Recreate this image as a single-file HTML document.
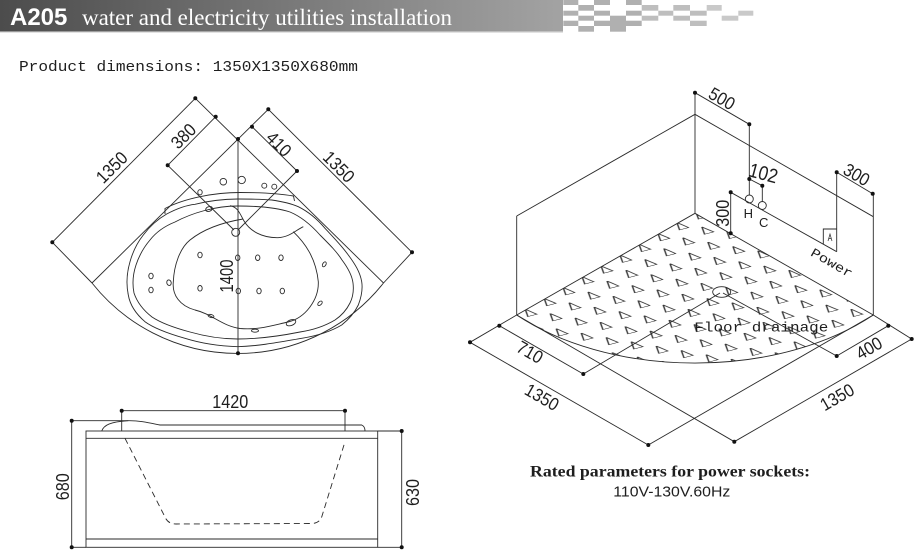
<!DOCTYPE html>
<html><head><meta charset="utf-8">
<style>
html,body{margin:0;padding:0;background:#fff;}
svg{display:block;}
.t{font-family:"Liberation Sans",Arial,sans-serif;fill:#1e1e1e;font-size:18px;}
.m{font-family:"Liberation Mono","DejaVu Sans Mono",monospace;fill:#1e1e1e;}
.ln{stroke:#2a2a2a;stroke-width:0.9;fill:none;}
.dot{fill:#111;}
</style></head><body>
<svg width="915" height="550" viewBox="0 0 915 550" xmlns="http://www.w3.org/2000/svg">
<defs>
<linearGradient id="hg" x1="0" x2="1" y1="0" y2="0">
<stop offset="0" stop-color="#4c4c4c"/><stop offset="1" stop-color="#a3a3a3"/>
</linearGradient>
<pattern id="tri" patternUnits="userSpaceOnUse" width="100" height="100" patternTransform="matrix(0.25 0.0433 -0.1896 0.1083 678.68 219.12)">
<path d="M13.24 26.84 L60.75 75.25 L76.01 47.91 Z" fill="none" stroke="#333" stroke-width="4.5"/>
</pattern>
</defs>
<rect x="0" y="0" width="915" height="550" fill="#fff"/>

<!-- HEADER -->
<rect x="0" y="0" width="563" height="31.5" fill="url(#hg)"/>
<rect x="0" y="31.5" width="563" height="1.5" fill="#e2e2e2"/>
<text x="10" y="25" style="font-family:'Liberation Sans',Arial,sans-serif;font-size:24px;font-weight:bold;fill:#fff">A205</text>
<text x="82" y="25" style="font-family:'Liberation Serif','Times New Roman',serif;font-size:23px;fill:#fff" textLength="370" lengthAdjust="spacingAndGlyphs">water and electricity utilities installation</text>
<g fill="#b0b0b0">
<rect x="563.3" y="0" width="15" height="5"/><rect x="563.3" y="10.7" width="15" height="5"/><rect x="563.3" y="20.7" width="15" height="5.3"/>
<rect x="578.3" y="5" width="15.7" height="5.7"/><rect x="578.3" y="15.7" width="15.7" height="5"/><rect x="578.3" y="26" width="15.7" height="5.7"/>
<rect x="594" y="0" width="16" height="5"/><rect x="594" y="10.7" width="16" height="5"/><rect x="594" y="20.7" width="16" height="5.3"/>
<rect x="610" y="15.7" width="16" height="16"/>
<rect x="626" y="0" width="15.7" height="5"/><rect x="626" y="10.7" width="15.7" height="5"/><rect x="626" y="20.7" width="15.7" height="5.3"/>
</g>
<g fill="#bebebe">
<rect x="641.7" y="5" width="16.6" height="5.7"/><rect x="641.7" y="15.7" width="16.6" height="5"/>
<rect x="658.3" y="10.7" width="15" height="5"/>
<rect x="673.3" y="5" width="16.7" height="5.7"/><rect x="673.3" y="15.7" width="16.7" height="5"/>
<rect x="690" y="10.7" width="16.7" height="5"/><rect x="690" y="20.7" width="16.7" height="5.3"/>
</g>
<g fill="#c9c9c9">
<rect x="706.7" y="5" width="15" height="5.7"/>
<rect x="721.7" y="15.7" width="16.6" height="5"/>
<rect x="738.3" y="10.7" width="15" height="5"/>
</g>

<text x="19" y="71" class="m" style="font-size:15px" textLength="339" lengthAdjust="spacingAndGlyphs">Product dimensions: 1350X1350X680mm</text>

<!-- PLAN VIEW -->
<g class="ln">
<path d="M92,283 A186,186 0 0 0 383.5,283"/>
<line x1="268.3" y1="109.3" x2="92" y2="283"/>
<line x1="195.3" y1="98.3" x2="383.5" y2="283"/>
<line x1="52.3" y1="242.3" x2="195.3" y2="98.3"/>
<line x1="52.3" y1="242.3" x2="92" y2="283"/>
<line x1="215.7" y1="116.7" x2="167.7" y2="165.3"/>
<line x1="167.7" y1="165.3" x2="234" y2="230"/>
<line x1="252" y1="126.7" x2="297" y2="171"/>
<line x1="297" y1="171" x2="238.5" y2="229.5"/>
<line x1="268.3" y1="109.3" x2="412" y2="252.3"/>
<line x1="412" y1="252.3" x2="383.5" y2="283"/>
<line x1="238" y1="139" x2="238" y2="353.3"/>
<path d="M165,214 L165,208.5 C185,198 215,192.5 240,192.5 C262,192.5 282,194 293.5,196 L294.5,201"/>
<path d="M166.7,214 C178,208 188,205 195,204.3 C210,200.5 225,199 237.7,199 C250,199 262,199 271.7,200 C282,201.5 291,203.5 298.3,206.7 C309,212 318,220 325,228.3 C334,238 342,246 348.3,255 C355,264 360,272 361.7,281.7 C363,290 361,298 358.3,305 C354,314 348,320 341.7,325 C330,332 316,336 301.7,338.3 C280,342 260,346 237.7,346.7 C218,346 200,343 185,338.3 C170,334 155,329 145,321.7 C136,314 130,305 128.3,295 C126,284 127,272 130,261.7 C133,251 137,243 143.3,235 C150,226 158,219 166.7,214 Z"/>
<path d="M237.7,206 C255,206 275,207 290,212 C302,217 312,226 320,235 C330,245 337,252 342,260 C348,268 352,275 353,283 C354,291 353,297 350,303 C346,311 341,316 335,320 C325,326 313,330 300,332 C280,336 258,339 237.7,339 C220,339 204,336 190,332 C175,328 161,323 152,317 C143,310 137,302 134,293 C132,283 133,274 136,265 C139,256 144,247 150,240 C157,231 165,226 175,222 C192,213 215,206 237.7,206 Z"/>
<path d="M230,205.7 C238,207 240,214 244,221 C250,231 262,238 278,237.7 C290,237 296,230 303.3,226.7"/>
<path d="M293.3,231.7 C305,243 316,258 318.3,281.7 C319,300 305,318 288,322 C270,326 258,330 240,328.5 C222,326 212,314 195,310 C180,306 172,295 173.3,282 C174,265 180,248 190,240 C205,228 225,222 243,219"/>
<circle cx="223.3" cy="181.7" r="3.3"/>
<circle cx="241.7" cy="180" r="3.7"/>
<circle cx="264.3" cy="185.7" r="2.5"/>
<circle cx="274.3" cy="186.7" r="2.5"/>
<ellipse cx="200" cy="192.3" rx="2.2" ry="2.6"/>
<ellipse cx="209" cy="209" rx="3.5" ry="2.3" transform="rotate(-20 209 209)"/>
<circle cx="235.7" cy="232.3" r="4"/>
<ellipse cx="200" cy="255" rx="2.2" ry="2.8"/>
<ellipse cx="237.7" cy="257.7" rx="2.2" ry="2.8"/>
<ellipse cx="257.7" cy="257.7" rx="2.2" ry="2.8"/>
<ellipse cx="281" cy="257.7" rx="2.2" ry="2.8"/>
<ellipse cx="151" cy="276" rx="2.2" ry="2.8"/>
<ellipse cx="151" cy="290" rx="2.2" ry="2.8"/>
<ellipse cx="169" cy="282.7" rx="2.2" ry="2.8" transform="rotate(-15 169 282.7)"/>
<ellipse cx="200" cy="288.3" rx="2.2" ry="2.8"/>
<ellipse cx="238.3" cy="291" rx="2.2" ry="2.8"/>
<ellipse cx="259" cy="291" rx="2.2" ry="2.8"/>
<ellipse cx="282.3" cy="291" rx="2.2" ry="2.8"/>
<ellipse cx="324.3" cy="264.3" rx="1.6" ry="2.7" transform="rotate(30 324.3 264.3)"/>
<ellipse cx="320" cy="303.3" rx="1.6" ry="2.7" transform="rotate(45 320 303.3)"/>
<ellipse cx="211" cy="316" rx="3" ry="1.5" transform="rotate(15 211 316)"/>
<ellipse cx="255" cy="330.7" rx="3.5" ry="1.5"/>
<ellipse cx="291" cy="322.7" rx="5" ry="2.8" transform="rotate(-20 291 322.7)"/>
</g>
<g class="dot">
<circle cx="52.3" cy="242.3" r="2"/><circle cx="195.3" cy="98.3" r="2"/>
<circle cx="215.7" cy="116.7" r="2"/><circle cx="167.7" cy="165.3" r="2"/>
<circle cx="268.3" cy="109.3" r="2"/><circle cx="252" cy="126.7" r="2"/>
<circle cx="297" cy="171" r="2"/><circle cx="412" cy="252.3" r="2"/>
<circle cx="238" cy="139" r="2"/><circle cx="238" cy="353.3" r="2"/>
</g>
<text class="t" text-anchor="middle" dy=".35em" transform="translate(111.7,167.3) rotate(-45)" textLength="36" lengthAdjust="spacingAndGlyphs">1350</text>
<text class="t" text-anchor="middle" dy=".35em" transform="translate(183.3,136) rotate(-45)" textLength="27" lengthAdjust="spacingAndGlyphs">380</text>
<text class="t" text-anchor="middle" dy=".35em" transform="translate(279,144) rotate(45)" textLength="27" lengthAdjust="spacingAndGlyphs">410</text>
<text class="t" text-anchor="middle" dy=".35em" transform="translate(339,166.7) rotate(45)" textLength="36" lengthAdjust="spacingAndGlyphs">1350</text>
<text class="t" text-anchor="middle" dy=".35em" transform="translate(226.5,276) rotate(-90)" textLength="33" lengthAdjust="spacingAndGlyphs">1400</text>

<!-- SIDE VIEW -->
<g class="ln">
<rect x="86" y="431" width="291.7" height="116.3"/>
<line x1="86" y1="438.3" x2="377.7" y2="438.3"/>
<line x1="86" y1="539" x2="377.7" y2="539"/>
<path d="M101.7,431 C104,425 110,422 128.3,420.7 C140,420.5 150,423 160,425 L361.7,425 C364,426 365,428 365,431"/>
<line x1="121.7" y1="410.7" x2="345" y2="410.7"/>
<line x1="121.7" y1="410.7" x2="121.7" y2="431"/>
<line x1="345" y1="410.7" x2="345" y2="431"/>
<line x1="71.7" y1="420.7" x2="71.7" y2="547.3"/>
<line x1="71.7" y1="420.7" x2="128.3" y2="420.7"/>
<line x1="71.7" y1="547.3" x2="86" y2="547.3"/>
<line x1="401.7" y1="431" x2="401.7" y2="547.3"/>
<line x1="377.7" y1="431" x2="401.7" y2="431"/>
<line x1="377.7" y1="547.3" x2="401.7" y2="547.3"/>
<path d="M125,438.3 L165,517 Q168,524 176,524 L312,523.5 Q320,523 322,516 L345,441.7" stroke-dasharray="6 4"/>
</g>
<g class="dot">
<circle cx="121.7" cy="410.7" r="2"/><circle cx="345" cy="410.7" r="2"/>
<circle cx="71.7" cy="420.7" r="2"/><circle cx="71.7" cy="547.3" r="2"/>
<circle cx="401.7" cy="431" r="2"/><circle cx="401.7" cy="547.3" r="2"/>
</g>
<text class="t" x="230.3" y="408" text-anchor="middle" textLength="36" lengthAdjust="spacingAndGlyphs">1420</text>
<text class="t" text-anchor="middle" dy=".35em" transform="translate(62.8,486.7) rotate(-90)" textLength="27" lengthAdjust="spacingAndGlyphs">680</text>
<text class="t" text-anchor="middle" dy=".35em" transform="translate(412.8,492.5) rotate(-90)" textLength="27" lengthAdjust="spacingAndGlyphs">630</text>

<!-- 3D VIEW -->
<path d="M695,213.3 L516.7,315 A243,150 0 0 0 873.3,315 Z" fill="url(#tri)" stroke="none"/>
<g class="ln">
<line x1="695" y1="92.7" x2="695" y2="213.3"/>
<line x1="695" y1="114.3" x2="516.7" y2="216"/>
<line x1="516.7" y1="216" x2="516.7" y2="315"/>
<line x1="695" y1="114.3" x2="873.3" y2="216.7"/>
<line x1="695" y1="213.3" x2="516.7" y2="315"/>
<line x1="695" y1="213.3" x2="873.3" y2="315"/>
<path d="M516.7,315 A243,150 0 0 0 873.3,315"/>
<line x1="695" y1="92.7" x2="749.3" y2="124.3"/>
<line x1="749.3" y1="124.3" x2="749.3" y2="195"/>
<circle cx="749.3" cy="199" r="4"/>
<line x1="749.3" y1="179" x2="762.3" y2="185.7"/>
<line x1="762.3" y1="185.7" x2="762.3" y2="201.5"/>
<circle cx="762.3" cy="205.5" r="4"/>
<line x1="730.7" y1="192.3" x2="730.7" y2="233.3"/>
<line x1="730.7" y1="192.3" x2="836.7" y2="251.7"/>
<polyline points="823.3,244.2 823.3,229 836.7,229"/>
<path d="M828,241 L830,234 L832,241 M829,238.5 L831,238.5" stroke-width="0.7"/>
<line x1="836.7" y1="172.3" x2="836.7" y2="251.7"/>
<line x1="836.7" y1="172.3" x2="872.7" y2="193.7"/>
<line x1="873.3" y1="193.7" x2="873.3" y2="315"/>
<ellipse cx="721.7" cy="292" rx="9" ry="5.3"/>
<line x1="723" y1="293" x2="836.7" y2="356"/>
<line x1="720" y1="293" x2="583.3" y2="374"/>
<line x1="499.3" y1="325.7" x2="583.3" y2="374"/>
<line x1="470" y1="342.3" x2="648.3" y2="445"/>
<line x1="470" y1="342.3" x2="516.7" y2="315"/>
<line x1="648.3" y1="445" x2="873.3" y2="315"/>
<line x1="734.3" y1="441.7" x2="516.7" y2="315"/>
<line x1="734.3" y1="441.7" x2="911.7" y2="339"/>
<line x1="888.3" y1="325.7" x2="836.7" y2="356"/>
<line x1="911.7" y1="339" x2="873.3" y2="315"/>
</g>
<g class="dot">
<circle cx="695" cy="92.7" r="2"/><circle cx="749.3" cy="124.3" r="2"/>
<circle cx="749.3" cy="179" r="2"/><circle cx="762.3" cy="185.7" r="2"/>
<circle cx="730.7" cy="192.3" r="2"/><circle cx="730.7" cy="233.3" r="2"/>
<circle cx="836.7" cy="172.3" r="2"/><circle cx="872.7" cy="193.7" r="2"/>
<circle cx="499.3" cy="325.7" r="2"/><circle cx="583.3" cy="374" r="2"/>
<circle cx="470" cy="342.3" r="2"/><circle cx="648.3" cy="445" r="2"/>
<circle cx="734.3" cy="441.7" r="2"/><circle cx="911.7" cy="339" r="2"/>
<circle cx="888.3" cy="325.7" r="2"/><circle cx="836.7" cy="356" r="2"/>
</g>
<text class="t" text-anchor="middle" dy=".35em" transform="translate(722,98.5) rotate(30)" textLength="27" lengthAdjust="spacingAndGlyphs">500</text>
<text class="t" text-anchor="middle" dy=".35em" transform="translate(763.5,173) rotate(15)" style="font-size:20px" textLength="29" lengthAdjust="spacingAndGlyphs">102</text>
<text class="t" text-anchor="middle" dy=".35em" transform="translate(856.7,174.5) rotate(30)" textLength="27" lengthAdjust="spacingAndGlyphs">300</text>
<text class="t" text-anchor="middle" dy=".35em" transform="translate(722.8,213.3) rotate(-90)" textLength="27" lengthAdjust="spacingAndGlyphs">300</text>
<text class="t" x="748.3" y="218" text-anchor="middle" style="font-size:13px">H</text>
<text class="t" x="763.7" y="227" text-anchor="middle" style="font-size:13px">C</text>
<text class="m" text-anchor="middle" dy=".35em" transform="translate(832,262.5) rotate(30)" style="font-size:13px" textLength="46" lengthAdjust="spacingAndGlyphs">Power</text>
<text class="m" x="694.3" y="331.7" style="font-size:14px" textLength="134" lengthAdjust="spacingAndGlyphs">Floor drainage</text>
<text class="t" text-anchor="middle" dy=".35em" transform="translate(530,352) rotate(30)" textLength="27" lengthAdjust="spacingAndGlyphs">710</text>
<text class="t" text-anchor="middle" dy=".35em" transform="translate(542,397) rotate(30)" textLength="36" lengthAdjust="spacingAndGlyphs">1350</text>
<text class="t" text-anchor="middle" dy=".35em" transform="translate(837,397) rotate(-30)" textLength="36" lengthAdjust="spacingAndGlyphs">1350</text>
<text class="t" text-anchor="middle" dy=".35em" transform="translate(869,348) rotate(-30)" textLength="27" lengthAdjust="spacingAndGlyphs">400</text>

<!-- BOTTOM TEXT -->
<text x="530" y="476.7" style="font-family:'Liberation Serif','Times New Roman',serif;font-size:16px;font-weight:bold;fill:#1e1e1e" textLength="280" lengthAdjust="spacingAndGlyphs">Rated parameters for power sockets:</text>
<text x="613.3" y="496.7" class="t" style="font-size:15px" textLength="117" lengthAdjust="spacingAndGlyphs">110V-130V.60Hz</text>
</svg>
</body></html>
